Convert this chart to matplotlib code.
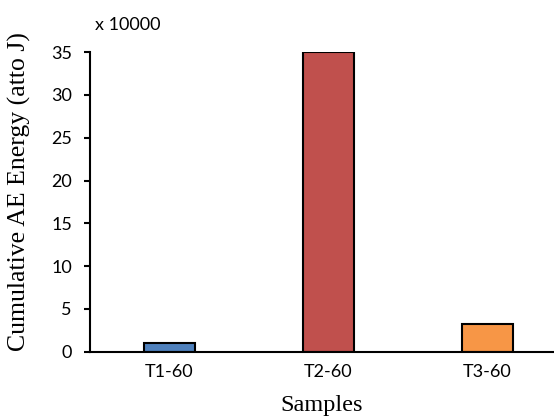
import matplotlib.pyplot as plt

samples = ["T1-60", "T2-60", "T3-60"]
energy = [1.0, 35.0, 3.2]  # in units of 10000 atto J
colors = ["#4F81BD", "#C0504D", "#F79646"]

fig = plt.figure(figsize=(5.54, 4.17), dpi=100)
ax = fig.add_axes([0.1625, 0.1566, 0.8375, 0.7184])

x = range(len(samples))
ax.bar(x, energy, width=0.315, color=colors, edgecolor="black", linewidth=1.5)

ax.set_xlim(-0.5, 2.418)
ax.set_ylim(0, 35)
ax.set_yticks(range(0, 36, 5))
ax.set_xticks(list(x))
ax.set_xticklabels(samples)

for s in ["top", "right"]:
    ax.spines[s].set_visible(False)
for s in ["left", "bottom"]:
    ax.spines[s].set_linewidth(1.5)
ax.tick_params(axis="y", length=4, width=1.5, labelsize=13, pad=9)
ax.tick_params(axis="x", length=0, labelsize=13, pad=9)
for lab in ax.get_xticklabels() + ax.get_yticklabels():
    lab.set_fontfamily("Lato")

ax.set_xlabel("Samples", fontfamily="Liberation Serif", fontsize=17.5, labelpad=11)
fig.text(19 / 554, 0.541, "Cumulative AE Energy (atto J)", fontfamily="Liberation Serif",
         fontsize=18.5, rotation=90, ha="center", va="center")
fig.text(0.171, 0.94, "x 10000", fontfamily="Lato", fontsize=13, va="center")

fig.savefig("out.png", dpi=100)
